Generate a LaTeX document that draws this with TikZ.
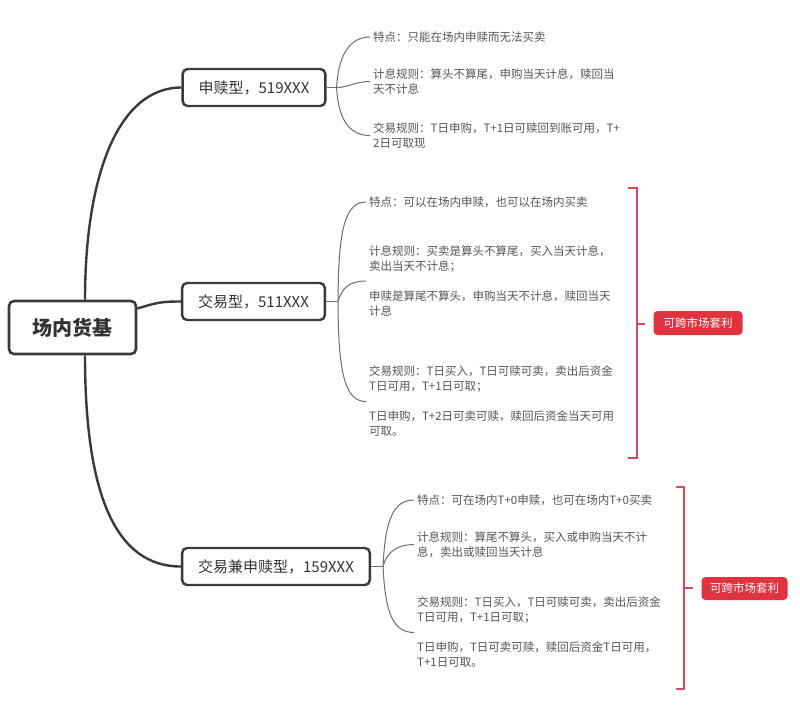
\documentclass[tikz,border=0pt]{standalone}
\usepackage{fontspec}
\setmainfont{Noto Sans CJK SC}
\usepackage{xcolor}
\usetikzlibrary{calc}
\definecolor{LineDark}{HTML}{3A3A3A}
\definecolor{LineLeaf}{HTML}{6E6E6E}
\definecolor{TextLeaf}{HTML}{555555}
\definecolor{TextMain}{HTML}{333333}
\definecolor{ArbRed}{HTML}{E0323F}
\definecolor{BracketRed}{HTML}{D9485A}

\begin{document}
\begin{tikzpicture}[
	x=1pt, y=1pt, % one unit is one pixel of the layout
	% Style for the central topic
	root node/.style={
		rectangle,
		rounded corners=5pt,
		draw=LineDark,
		line width=2.6pt,
		fill=white,
		minimum width=127pt,
		minimum height=53pt,
		font=\fontsize{20}{24}\selectfont\bfseries,
		text=TextMain
	},
	% Style for the three fund types
	type node/.style={
		rectangle,
		rounded corners=5pt,
		draw=LineDark,
		line width=2.4pt,
		fill=white,
		minimum height=37pt,
		inner xsep=16pt,
		font=\fontsize{15}{18}\selectfont,
		text=TextMain
	},
	% Style for the plain text notes
	leaf node/.style={
		anchor=west,
		align=left,
		inner xsep=3pt,
		inner ysep=0pt,
		font=\fontsize{11.5}{15}\selectfont,
		text=TextLeaf
	},
	% Style for the red summary labels
	arb node/.style={
		rectangle,
		rounded corners=4pt,
		fill=ArbRed,
		text=white,
		minimum width=89pt,
		minimum height=24pt,
		font=\fontsize{11.5}{14}\selectfont
	},
	% Connecting lines
	trunk/.style={draw=LineDark, line width=2.4pt},
	twig/.style={draw=LineLeaf, line width=1pt},
	bracket/.style={draw=BracketRed, line width=1.6pt}
	]
	
	\useasboundingbox[fill=white] (0,0) rectangle (800,-716);
	
	% 1. Topics
	% Root
	\node[root node] (root) at (72.5, -327.5) {场内货基};
	
	% Fund types
	\node[type node] (t1) at (254, -87.5) {申赎型，519XXX};
	\node[type node] (t2) at (253.5, -301.5) {交易型，511XXX};
	\node[type node] (t3) at (276, -566.5) {交易兼申赎型，159XXX};
	
	% Notes of the first type
	\node[leaf node] (l11) at (370, -37) {特点：只能在场内申赎而无法买卖};
	\node[leaf node] (l12) at (370, -81.5) {计息规则：算头不算尾，申购当天计息，赎回当\\天不计息};
	\node[leaf node] (l13) at (370, -135.5) {交易规则：T日申购，T+1日可赎回到账可用，T+\\2日可取现};
	
	% Notes of the second type
	\node[leaf node] (l21) at (366, -202) {特点：可以在场内申赎，也可以在场内买卖};
	\node[leaf node] (l22) at (366, -281) {计息规则：买卖是算头不算尾，买入当天计息，\\卖出当天不计息；\\[15pt]申赎是算尾不算头，申购当天不计息，赎回当天\\计息};
	\node[leaf node] (l23) at (366, -401.5) {交易规则：T日买入，T日可赎可卖，卖出后资金\\T日可用，T+1日可取；\\[15pt]T日申购，T+2日可卖可赎，赎回后资金当天可用\\可取。};
	
	% Notes of the third type
	\node[leaf node] (l31) at (414, -500) {特点：可在场内T+0申赎，也可在场内T+0买卖};
	\node[leaf node] (l32) at (414, -544.5) {计息规则：算尾不算头，买入或申购当天不计\\息，卖出或赎回当天计息};
	\node[leaf node] (l33) at (414, -632.5) {交易规则：T日买入，T日可赎可卖，卖出后资金\\T日可用，T+1日可取；\\[15pt]T日申购，T日可卖可赎，赎回后资金T日可用，\\T+1日可取。};
	
	% Summary labels
	\node[arb node] (arb2) at (698, -323) {可跨市场套利};
	\node[arb node, minimum width=86pt, minimum height=23pt] (arb3) at (744.5, -588.5) {可跨市场套利};
	
	% 2. Edges from root to the types
	\draw[trunk] ($(root.north)+(12.5,0)$) .. controls +(0,120) and +(-65,0) .. (t1.west);
	\draw[trunk] ($(root.east)+(0,19)$) .. controls +(20,6) and +(-20,0) .. (t2.west);
	\draw[trunk] ($(root.south)+(12.5,0)$) .. controls +(0,-140) and +(-65,0) .. (t3.west);
	
	% 3. Edges from the types to their notes
	\coordinate (f1) at ($(t1.east)+(10,0)$);
	\draw[twig] (t1.east) -- (f1);
	\draw[twig] (f1) .. controls +(2,36) and +(-18,0) .. (l11.west);
	\draw[twig] (f1) .. controls +(12,0) and +(-15,0) .. (l12.west);
	\draw[twig] (f1) .. controls +(2,-36) and +(-18,0) .. (l13.west);
	
	\coordinate (f2) at ($(t2.east)+(12,0)$);
	\draw[twig] (t2.east) -- (f2);
	\draw[twig] (f2) .. controls +(0,75) and +(-20,0) .. (l21.west);
	\draw[twig] (f2) .. controls +(4,15) and +(-15,0) .. (l22.west);
	\draw[twig] (f2) .. controls +(0,-75) and +(-20,0) .. (l23.west);
	
	\coordinate (f3) at ($(t3.east)+(12,0)$);
	\draw[twig] (t3.east) -- (f3);
	\draw[twig] (f3) .. controls +(2,48) and +(-20,0) .. (l31.west);
	\draw[twig] (f3) .. controls +(4,16) and +(-15,0) .. (l32.west);
	\draw[twig] (f3) .. controls +(2,-48) and +(-20,0) .. (l33.west);
	
	% 4. Red brackets
	\coordinate (b2m) at (637, -324);
	\draw[bracket] (628, -188) -- (637, -188) -- (637, -458) -- (628, -458);
	\draw[bracket] (b2m) -- ++(8,0);
	
	\coordinate (b3m) at (684, -588);
	\draw[bracket] (676, -487) -- (684, -487) -- (684, -689) -- (676, -689);
	\draw[bracket] (b3m) -- ++(9,0);
	
\end{tikzpicture}
\end{document}
